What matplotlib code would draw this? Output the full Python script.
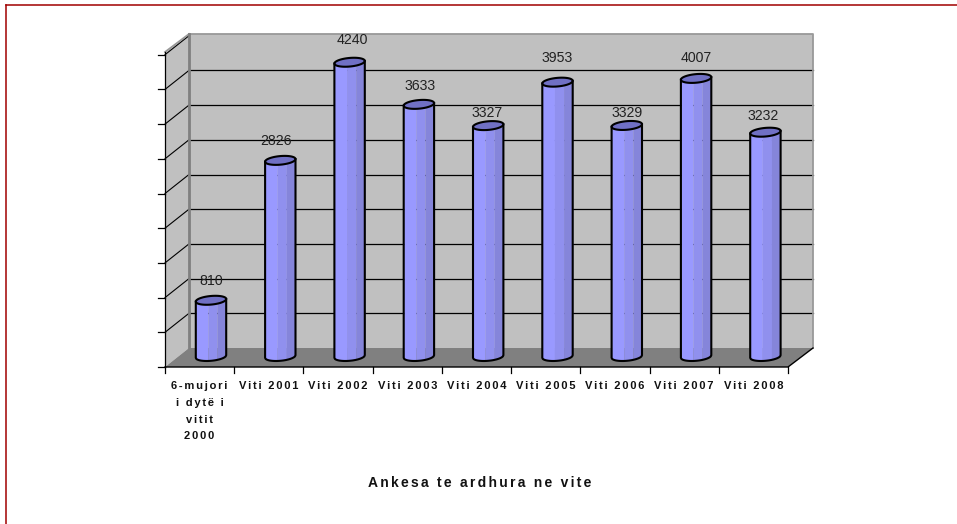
import numpy as np
import matplotlib
matplotlib.use('Agg')
import matplotlib.pyplot as plt
from matplotlib.patches import Polygon

plt.rcParams['font.family'] = ['Liberation Sans', 'DejaVu Sans']

# data
categories = ['6-mujori\ni dytë i\nvitit\n2000', 'Viti 2001', 'Viti 2002', 'Viti 2003', 'Viti 2004',
              'Viti 2005', 'Viti 2006', 'Viti 2007', 'Viti 2008']
values = [810, 2826, 4240, 3633, 3327, 3953, 3329, 4007, 3232]
grid_values = [0, 500, 1000, 1500, 2000, 2500, 3000, 3500, 4000, 4500]
title = 'Ankesa te ardhura ne vite'

W, H = 957, 524
unit = 0.0694  # px per value
x0, dx = 211, 69.3
base = 356.5

def track(s):
    # letter spacing with hair spaces
    sp = '\u200a\u200a'
    return '\n'.join(sp.join(l) for l in s.split('\n'))

fig = plt.figure(figsize=(W / 100, H / 100), dpi=100)

# background axes in pixels: walls, floor, frame
bg = fig.add_axes([0, 0, 1, 1])
bg.set_xlim(0, W)
bg.set_ylim(H, 0)
bg.axis('off')

bg.plot([6, 6], [524, 4.5], color='#a00000', lw=1.1)
bg.plot([6, 957], [4.5, 4.5], color='#a00000', lw=1.1)

bg.add_patch(Polygon([(189, 34), (813, 34), (813, 348), (189, 348)], fc='#c0c0c0', ec='none'))
bg.add_patch(Polygon([(165, 52), (189, 34), (189, 348), (165, 367)], fc='#c0c0c0', ec='none'))
bg.add_patch(Polygon([(165, 367), (189, 348), (813, 348), (788, 367)], fc='#808080', ec='none'))

for v in grid_values[1:-1]:
    y = 348 - v * unit
    bg.plot([189, 813], [y, y], color='black', lw=0.9)
for v in grid_values:
    y = 367 - v * unit
    if v > 0:
        bg.plot([165, 189], [y, y - 19], color='black', lw=0.8)
    bg.plot([158, 165], [y, y], color='black', lw=0.9)

bg.plot([189, 813, 813], [34, 34, 348], color='#999999', lw=1.3)
bg.plot([165, 189], [52, 34], color='#999999', lw=1.3)
bg.plot([189, 189], [34, 348], color='#808080', lw=2)
bg.plot([165, 165], [52, 367], color='black', lw=0.9)
bg.plot([165, 788, 813], [367, 367, 348], color='black', lw=1)

edges = np.linspace(165, 788, len(categories) + 1)
for x in edges:
    bg.plot([x, x], [367, 373], color='black', lw=0.9)
for i, c in enumerate(categories):
    bg.text((edges[i] + edges[i + 1]) / 2, 381, track(c), ha='center', va='top', fontsize=8,
            fontweight='bold', color='#111111', linespacing=1.85)
bg.text(480, 483, track(title), ha='center', va='center', fontsize=10, fontweight='bold', color='#111111')

# data axes: same box, value scale with 0 at the bar base
ax = fig.add_axes([0, 0, 1, 1])
ax.set_xlim(-x0 / dx, (W - x0) / dx)
ax.set_ylim((base - H) / unit, base / unit)
ax.axis('off')
ax.patch.set_alpha(0)

hw = 15.2 / dx
eh = 4.3 / unit
tilt = 1.3 / unit
bands = [(-1, -0.2, '#9999ff'), (-0.2, 0.4, '#9090ee'), (0.4, 1, '#8585da')]
label_nudge = [(0, 0), (-4, 0), (3, 3), (1, -1), (-1, -7), (0, 5), (0, -7), (0, 1), (-2, -3)]

for i, v in enumerate(values):
    for a, b, col in bands:
        u = np.linspace(a, b, 40)
        low = tilt * u - eh * np.sqrt(1 - u ** 2)
        ax.fill_between(i + u * hw, low, v + tilt * u, color=col, lw=0)
    u = np.linspace(-1, 1, 60)
    low = tilt * u - eh * np.sqrt(1 - u ** 2)
    ax.plot(np.r_[i - hw, i + u * hw, i + hw], np.r_[v - tilt, low, v + tilt], color='black', lw=1.5)
    t = np.linspace(0, 2 * np.pi, 80)
    ax.fill(i + hw * np.cos(t), v + tilt * np.cos(t) + eh * np.sin(t), fc='#7070c4', ec='black', lw=1.5)
    nx, ny = label_nudge[i]
    ax.annotate(str(v), (i, v), xytext=(nx * 0.72, (19.5 + ny) * 0.72), textcoords='offset points',
                ha='center', va='center', fontsize=10.2, color='#222222')

fig.savefig('out.png', dpi=100)
